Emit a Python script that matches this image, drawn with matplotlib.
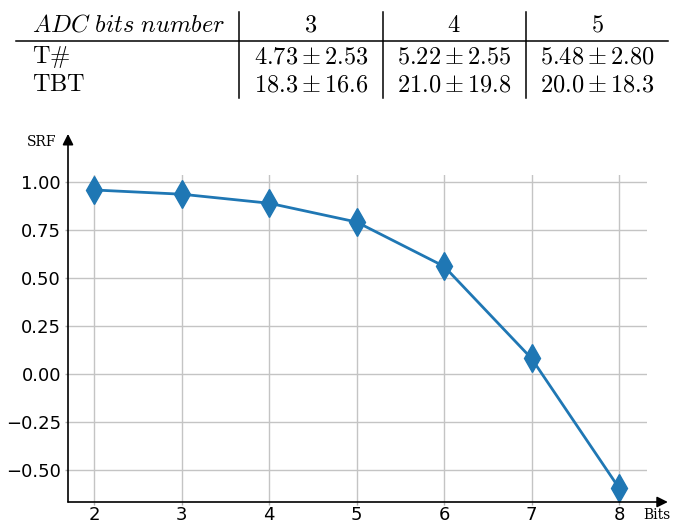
import matplotlib
matplotlib.use("Agg")
import matplotlib.pyplot as plt
from matplotlib.lines import Line2D

# ---- data -------------------------------------------------------------
bits = [2, 3, 4, 5, 6, 7, 8]
srf = [0.960, 0.938, 0.891, 0.793, 0.562, 0.082, -0.593]

y_ticks = [-0.50, -0.25, 0.00, 0.25, 0.50, 0.75, 1.00]

table_first_col = "ADC bits number"
adc_bits = ["3", "4", "5"]
row_labels = ["T#", "TBT"]
t_mean = [4.73, 5.22, 5.48]
t_std = [2.53, 2.55, 2.80]
tbt_mean = [18.3, 21.0, 20.0]
tbt_std = [16.6, 19.8, 18.3]

# ---- figure -----------------------------------------------------------
plt.rcParams["mathtext.fontset"] = "cm"

W, H = 678, 522
fig = plt.figure(figsize=(W / 100, H / 100), dpi=100)


def fx(px):
    return px / W


def fy(py):
    return 1 - py / H


# ---- summary table above the plot -------------------------------------
tfs = 17.5
col_centers = [311, 454, 597]
header_base, row_bases = 32, [63, 91]

fig.text(fx(32), fy(header_base), r"$" + table_first_col.replace(" ", r"\ ") + "$",
         ha="left", va="baseline", fontsize=tfs)
for cx, b in zip(col_centers, adc_bits):
    fig.text(fx(cx), fy(header_base), r"$\mathrm{%s}$" % b,
             ha="center", va="baseline", fontsize=tfs)

rows = [list(zip(t_mean, t_std)), list(zip(tbt_mean, tbt_std))]
fmts = ["%.2f", "%.1f"]
for base, label, vals, f in zip(row_bases, row_labels, rows, fmts):
    fig.text(fx(32), fy(base), r"$\mathrm{%s}$" % label.replace("#", r"\#"),
             ha="left", va="baseline", fontsize=tfs)
    for cx, (m, s) in zip(col_centers, vals):
        txt = r"$" + (f % m) + r"\pm" + (f % s) + r"$"
        fig.text(fx(cx), fy(base), txt, ha="center", va="baseline", fontsize=tfs)

# rules of the table
fig.add_artist(Line2D([fx(16), fx(668)], [fy(41), fy(41)],
                      transform=fig.transFigure, color="black", lw=1.1))
for vx in [239, 382.5, 526]:
    fig.add_artist(Line2D([fx(vx), fx(vx)], [fy(12), fy(98)],
                          transform=fig.transFigure, color="black", lw=1.1))

# ---- SRF vs. bits plot ------------------------------------------------
ax = fig.add_axes([fx(68), fy(502), fx(647) - fx(68), fy(175.4) - fy(502)])
ax.plot(bits, srf, color="#1f77b4", lw=2, marker="d", markersize=14)

ax.set_xlim(1.70, 8.32)
ax.set_ylim(-0.666, 1.036)
ax.set_xticks(bits)
ax.set_yticks(y_ticks)
ax.set_yticklabels(["%.2f" % v if v >= 0 else "\u2212%.2f" % -v for v in y_ticks])
ax.grid(True, color="#c4c4c4", lw=1)
ax.set_axisbelow(True)
ax.tick_params(labelsize=13, length=2.5, width=1, color="#b0b0b0")
ax.tick_params(axis="y", pad=2.5)
ax.tick_params(axis="x", pad=0.3)

for s in ax.spines.values():
    s.set_visible(False)

arrow = dict(arrowstyle="-|>", color="black", lw=1.2, mutation_scale=16,
             shrinkA=0, shrinkB=0)
ax.annotate("", xy=(0, 1.127), xytext=(0, 0), xycoords="axes fraction",
            arrowprops=arrow, annotation_clip=False)
ax.annotate("", xy=(1.036, 0), xytext=(0, 0), xycoords="axes fraction",
            arrowprops=arrow, annotation_clip=False)

fig.text(fx(42), fy(142), "SRF", family="DejaVu Serif", fontsize=10,
         ha="center", va="center")
fig.text(fx(657), fy(515), "Bits", family="DejaVu Serif", fontsize=10,
         ha="center", va="center")

fig.savefig("out.png", dpi=100)
